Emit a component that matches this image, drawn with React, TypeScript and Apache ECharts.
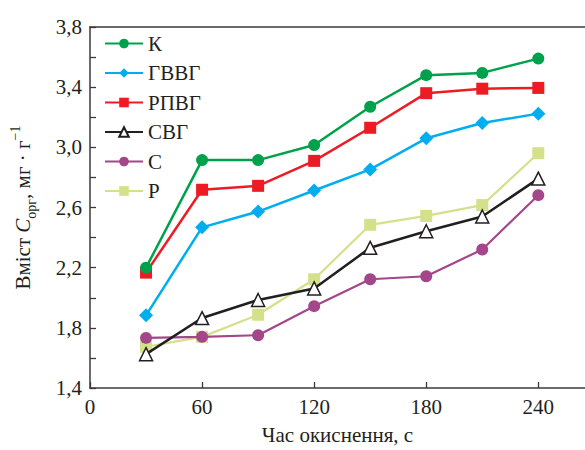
import React, { useEffect, useRef } from "react";
import * as echarts from "echarts";

const timeValues = [30, 60, 90, 120, 150, 180, 210, 240];
const seriesNames = ["К", "ГВВГ", "РПВГ", "СВГ", "С", "Р"];
const kValues = [2.2, 2.915, 2.915, 3.015, 3.27, 3.48, 3.495, 3.59];
const gvvgValues = [1.883, 2.468, 2.573, 2.713, 2.853, 3.06, 3.162, 3.224];
const rpvgValues = [2.167, 2.718, 2.744, 2.91, 3.13, 3.36, 3.39, 3.395];
const svgValues = [1.625, 1.865, 1.985, 2.062, 2.332, 2.442, 2.54, 2.792];
const sValues = [1.733, 1.74, 1.751, 1.944, 2.123, 2.143, 2.321, 2.682];
const rValues = [1.674, 1.74, 1.887, 2.123, 2.485, 2.544, 2.616, 2.961];
const xTickLabels = ["0", "60", "120", "180", "240"];
const yTickLabels = ["1,4", "1,8", "2,2", "2,6", "3,0", "3,4", "3,8"];

const FONT = "Liberation Serif";
const AXIS_COLOR = "#3a3a3a";
const TEXT_COLOR = "#231f20";

export default function App() {
  const ref = useRef<HTMLDivElement>(null);
  useEffect(() => {
    if (!ref.current) return;
    const chart = echarts.init(ref.current, undefined, { renderer: "svg" });
    const all = [kValues, gvvgValues, rpvgValues, svgValues, sValues, rValues];
    const colors = ["#00a14b", "#00aeef", "#ed1c24", "#231f20", "#a3468a", "#d5e08a"];
    const symbols = ["circle", "diamond", "rect", "triangle", "circle", "rect"];
    const symbolSizes = [12, 14, 12, 13, 12, 12];
    const widths = [2.5, 2.5, 2.5, 2.5, 2.2, 2.2];
    const series = all.map((vals, i) => ({
      name: seriesNames[i],
      type: "line",
      data: vals.map((v, j) => [timeValues[j], v]),
      symbol: symbols[i],
      symbolSize: symbolSizes[i],
      showSymbol: true,
      lineStyle: { color: colors[i], width: widths[i] },
      itemStyle:
        i === 3
          ? { color: "#ffffff", borderColor: colors[i], borderWidth: 1.5 }
          : { color: colors[i], borderWidth: 0 },
      z: 10 - i,
    }));
    chart.setOption({
      animation: false,
      textStyle: { fontFamily: FONT },
      grid: { left: 84, top: 27, right: 0, bottom: 58, containLabel: false },
      legend: {
        orient: "vertical",
        left: 99,
        top: 28,
        itemWidth: 38,
        itemHeight: 12,
        itemGap: 8.5,
        textStyle: { fontFamily: FONT, fontSize: 21, color: TEXT_COLOR },
        data: seriesNames,
      },
      xAxis: [
        {
          type: "value",
          min: 0,
          max: 265,
          interval: 60,
          position: "bottom",
          name: "Час окиснення, с",
          nameLocation: "middle",
          nameGap: 36,
          nameTextStyle: { fontFamily: FONT, fontSize: 21, color: TEXT_COLOR },
          axisLine: { show: true, lineStyle: { color: AXIS_COLOR, width: 1.5 } },
          axisTick: { show: true, inside: true, length: 6, lineStyle: { color: AXIS_COLOR, width: 1.3 } },
          splitLine: { show: false },
          axisLabel: {
            showMaxLabel: false,
            fontFamily: FONT,
            fontSize: 21,
            color: TEXT_COLOR,
            margin: 8,
            formatter: (v: number) => {
              const idx = Math.round(v / 60);
              return Math.abs(v - idx * 60) < 1e-6 && idx < xTickLabels.length ? xTickLabels[idx] : "";
            },
          },
        },
        {
          type: "value",
          min: 0,
          max: 265,
          position: "top",
          axisLine: { show: true, lineStyle: { color: AXIS_COLOR, width: 1.5 } },
          axisTick: { show: false },
          axisLabel: { show: false },
          splitLine: { show: false },
        },
      ],
      yAxis: {
        type: "value",
        min: 1.4,
        max: 3.8,
        interval: 0.2,
        name: "{a|Вміст }{c|C}{sub|орг}{a|, мг · г}{sup|−1}",
        nameLocation: "middle",
        nameRotate: 90,
        nameGap: 52,
        nameTextStyle: {
          fontFamily: FONT,
          fontSize: 21,
          color: TEXT_COLOR,
          rich: {
            a: { fontFamily: FONT, fontSize: 21, color: TEXT_COLOR, lineHeight: 30, verticalAlign: "middle" },
            c: { fontFamily: FONT, fontSize: 21, fontStyle: "italic", color: TEXT_COLOR, lineHeight: 30, verticalAlign: "middle" },
            sub: { fontFamily: FONT, fontSize: 14, color: TEXT_COLOR, lineHeight: 10, verticalAlign: "bottom" },
            sup: { fontFamily: FONT, fontSize: 14, color: TEXT_COLOR, lineHeight: 12, verticalAlign: "top" },
          },
        },
        axisLine: { show: true, lineStyle: { color: AXIS_COLOR, width: 1.5 } },
        axisTick: { show: true, inside: true, length: 6, interval: 1, lineStyle: { color: AXIS_COLOR, width: 1.3 } },
        splitLine: { show: false },
        axisLabel: {
          interval: 1,
          fontFamily: FONT,
          fontSize: 21,
          color: TEXT_COLOR,
          margin: 8,
          formatter: (v: number) => {
            const idx = Math.round((v - 1.4) / 0.4);
            return Math.abs(v - (1.4 + idx * 0.4)) < 1e-6 ? yTickLabels[idx] : "";
          },
        },
      },
      series,
    });
    return () => chart.dispose();
  }, []);
  return <div ref={ref} style={{ width: 585, height: 450, position: "absolute", left: 0, top: 0 }} />;
}
